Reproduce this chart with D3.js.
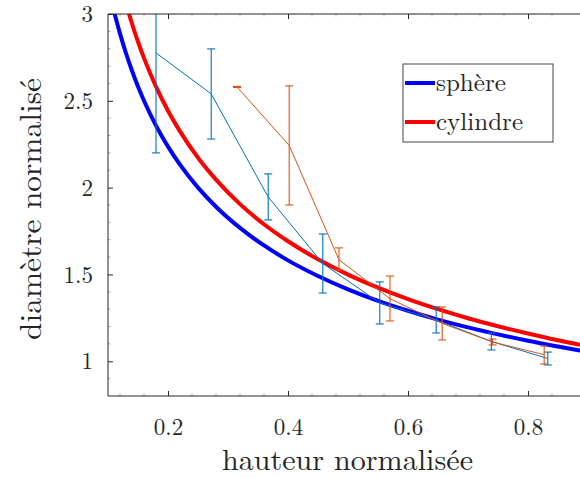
<!DOCTYPE html>
<html>
<head>
<meta charset="utf-8">
<script src="https://cdn.jsdelivr.net/npm/d3@7"></script>
<style>
  html, body { margin: 0; padding: 0; background: #fff; }
  svg { display: block; }
</style>
</head>
<body>
<svg id="chart" width="580" height="477"></svg>
<script>
// ---------- data ----------
const xTicks = [0.2, 0.4, 0.6, 0.8];
const yTicks = [1, 1.5, 2, 2.5, 3];
const xTickLabels = ["0.2", "0.4", "0.6", "0.8"];
const yTickLabels = ["1", "1.5", "2", "2.5", "3"];

// theoretical curves
const sphereX = [0.111, 0.12, 0.13, 0.14, 0.15, 0.16, 0.18, 0.2, 0.22, 0.25, 0.28, 0.32, 0.36, 0.4, 0.45, 0.5, 0.55, 0.6, 0.65, 0.7, 0.75, 0.8, 0.85, 0.89];
const sphereY = [3.001, 2.887, 2.774, 2.673, 2.582, 2.5, 2.357, 2.236, 2.132, 2.0, 1.890, 1.768, 1.667, 1.581, 1.491, 1.414, 1.348, 1.291, 1.240, 1.195, 1.155, 1.118, 1.085, 1.060];
const cylX = [0.135, 0.14, 0.15, 0.16, 0.18, 0.2, 0.22, 0.25, 0.28, 0.32, 0.36, 0.4, 0.45, 0.5, 0.55, 0.6, 0.65, 0.7, 0.75, 0.8, 0.85, 0.89];
const cylY = [3.001, 2.944, 2.840, 2.746, 2.582, 2.443, 2.324, 2.172, 2.046, 1.905, 1.789, 1.691, 1.587, 1.499, 1.424, 1.358, 1.300, 1.248, 1.202, 1.160, 1.121, 1.093];

// measured series 1 (blue)
const s1X  = [0.180, 0.272, 0.367, 0.458, 0.553, 0.647, 0.739, 0.833];
const s1Y  = [2.776, 2.540, 1.946, 1.563, 1.336, 1.238, 1.114, 1.016];
const s1Lo = [2.200, 2.280, 1.814, 1.393, 1.215, 1.163, 1.065, 0.979];
const s1Hi = [3.350, 2.799, 2.079, 1.733, 1.457, 1.313, 1.163, 1.053];

// measured series 2 (orange)
const s2X  = [0.315, 0.402, 0.485, 0.570, 0.657, 0.741, 0.827];
const s2Y  = [2.580, 2.243, 1.585, 1.360, 1.218, 1.111, 1.038];
const s2Lo = [2.577, 1.900, 1.526, 1.232, 1.123, 1.094, 0.984];
const s2Hi = [2.583, 2.586, 1.653, 1.491, 1.313, 1.128, 1.088];

const legendLabels = ["sphère", "cylindre"];
const colSphere = "#0000FF", colCyl = "#FF0000";
const colS1 = "#0072BD", colS2 = "#D95319";

// ---------- layout ----------
const FONT = "'Latin Modern Roman'";
const L = 108, R = 580, T = 14, B = 396;
const svg = d3.select("#chart");
const x = d3.scaleLinear().domain([0.1, 0.8867]).range([L, R]);
const y = d3.scaleLinear().domain([0.8, 3]).range([B, T]);
const axisCol = "#262626";

svg.append("defs").append("clipPath").attr("id", "clip")
  .append("rect").attr("x", L).attr("y", T).attr("width", R - L).attr("height", B - T);

const plot = svg.append("g").attr("clip-path", "url(#clip)");

// curves
const line = d3.line().x(d => x(d[0])).y(d => y(d[1])).curve(d3.curveMonotoneX);
plot.append("path").datum(sphereX.map((v, i) => [v, sphereY[i]]))
  .attr("d", line).attr("fill", "none").attr("stroke", colSphere).attr("stroke-width", 4);
plot.append("path").datum(cylX.map((v, i) => [v, cylY[i]]))
  .attr("d", line).attr("fill", "none").attr("stroke", colCyl).attr("stroke-width", 4);

// measured series with error bars
const lin = d3.line().x(d => x(d[0])).y(d => y(d[1]));
function series(X, Y, Lo, Hi, col) {
  const g = plot.append("g");
  g.append("path").datum(X.map((v, i) => [v, Y[i]]))
    .attr("d", lin).attr("fill", "none").attr("stroke", col).attr("stroke-width", 1);
  const cap = 4;
  X.forEach((v, i) => {
    const cx = x(v);
    g.append("line").attr("x1", cx).attr("x2", cx).attr("y1", y(Lo[i])).attr("y2", y(Hi[i]))
      .attr("stroke", col).attr("stroke-width", 1.1);
    [Lo[i], Hi[i]].forEach(e => {
      g.append("line").attr("x1", cx - cap).attr("x2", cx + cap).attr("y1", y(e)).attr("y2", y(e))
        .attr("stroke", col).attr("stroke-width", 1.1);
    });
  });
}
series(s1X, s1Y, s1Lo, s1Hi, colS1);
series(s2X, s2Y, s2Lo, s2Hi, colS2);

// ---------- axes ----------
const fs = 23;
const xAxis = d3.axisBottom(x).tickValues(xTicks).tickFormat((d, i) => xTickLabels[i])
  .tickSizeInner(-5).tickSizeOuter(0).tickPadding(24);
const gx = svg.append("g").attr("transform", `translate(0,${B})`).call(xAxis);
gx.attr("font-family", null).attr("font-size", null);
gx.select(".domain").attr("stroke", axisCol).attr("d", `M${L},0H${R}`);
gx.selectAll(".tick line").attr("stroke", axisCol);
gx.selectAll(".tick text").style("font-size", fs + "px").style("font-family", FONT)
  .style("fill", axisCol).attr("dy", "0").attr("y", 39);

const yAxis = d3.axisLeft(y).tickValues(yTicks).tickFormat((d, i) => yTickLabels[i])
  .tickSizeInner(-5).tickSizeOuter(0).tickPadding(15);
const gy = svg.append("g").attr("transform", `translate(${L},0)`).call(yAxis);
gy.attr("font-family", null).attr("font-size", null);
gy.select(".domain").attr("stroke", axisCol).attr("d", `M0,${T}V${B}`);
gy.selectAll(".tick line").attr("stroke", axisCol);
gy.selectAll(".tick text").style("font-size", fs + "px").style("font-family", FONT)
  .style("fill", axisCol).attr("dy", "0.33em");

// top axis (box)
const xTop = d3.axisTop(x).tickValues(xTicks).tickFormat("").tickSizeInner(-5).tickSizeOuter(0);
const gt = svg.append("g").attr("transform", `translate(0,${T})`).call(xTop);
gt.select(".domain").attr("stroke", axisCol).attr("d", `M${L},0H${R}`);
gt.selectAll(".tick line").attr("stroke", axisCol);

// minor ticks
const xMinor = d3.range(0.12, 0.88, 0.04).filter(v => !xTicks.some(t => Math.abs(t - v) < 1e-6));
const yMinor = d3.range(0.9, 3.0, 0.1).filter(v => !yTicks.some(t => Math.abs(t - v) < 1e-6));
const minor = svg.append("g").attr("stroke", axisCol).attr("stroke-width", 0.6).attr("opacity", 0.6);
xMinor.forEach(v => {
  minor.append("line").attr("x1", x(v)).attr("x2", x(v)).attr("y1", B).attr("y2", B - 2.5);
  minor.append("line").attr("x1", x(v)).attr("x2", x(v)).attr("y1", T).attr("y2", T + 2.5);
});
yMinor.forEach(v => {
  minor.append("line").attr("x1", L).attr("x2", L + 2.5).attr("y1", y(v)).attr("y2", y(v));
});

// axis titles
svg.append("text").attr("x", 347.5).attr("y", 470).attr("text-anchor", "middle")
  .style("font-family", FONT).style("font-size", "29px").style("fill", axisCol)
  .attr("textLength", 251).attr("lengthAdjust", "spacingAndGlyphs")
  .text("hauteur normalisée");
svg.append("text").attr("transform", "translate(41,209) rotate(-90)").attr("text-anchor", "middle")
  .style("font-family", FONT).style("font-size", "30px").style("fill", axisCol)
  .attr("textLength", 262).attr("lengthAdjust", "spacingAndGlyphs")
  .text("diamètre normalisé");

// ---------- legend ----------
const lg = svg.append("g");
lg.append("rect").attr("x", 403).attr("y", 64).attr("width", 150).attr("height", 78)
  .attr("fill", "#fff").attr("stroke", "#444").attr("stroke-width", 1);
const legCols = [colSphere, colCyl];
const legY = [83, 122];
const legW = [70, 87];
legendLabels.forEach((lab, i) => {
  lg.append("line").attr("x1", 405).attr("x2", 435).attr("y1", legY[i]).attr("y2", legY[i])
    .attr("stroke", legCols[i]).attr("stroke-width", 4);
  lg.append("text").attr("x", 436).attr("y", legY[i] + 8)
    .style("font-family", FONT).style("font-size", "25px").style("fill", axisCol)
    .attr("textLength", legW[i]).attr("lengthAdjust", "spacingAndGlyphs").text(lab);
});
</script>
</body>
</html>
